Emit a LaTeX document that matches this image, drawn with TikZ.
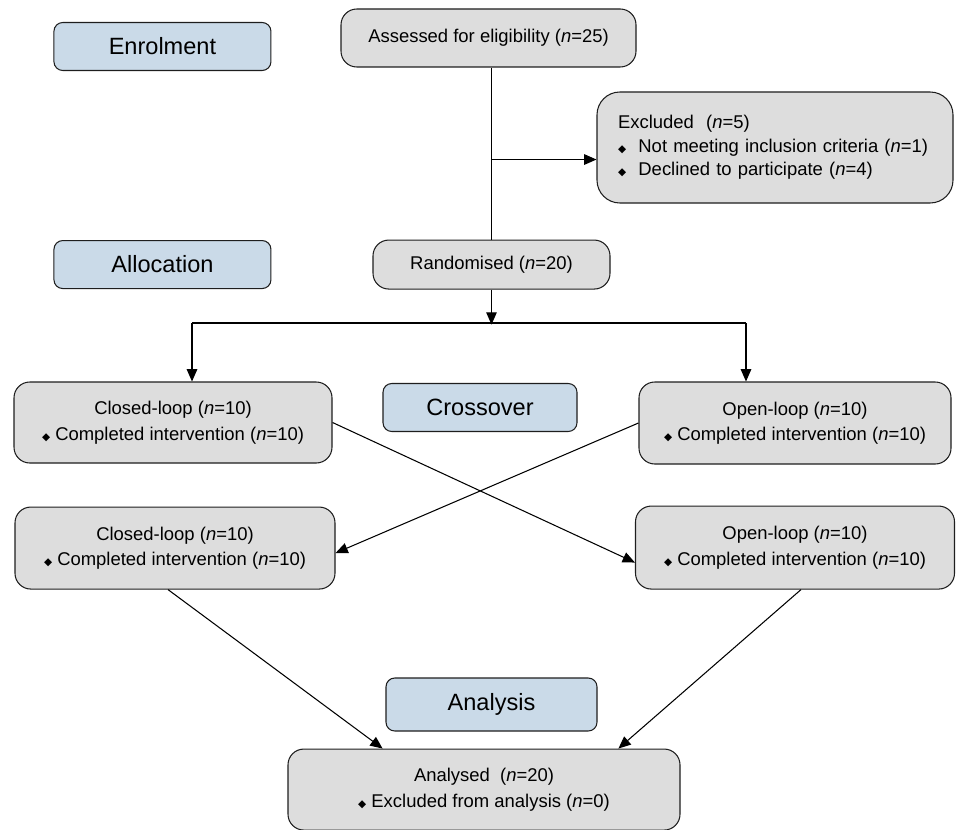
\documentclass[tikz,border=0pt]{standalone}
\usepackage{fontspec}
\setmainfont{Liberation Sans}
\newfontfamily\symfont{DejaVu Sans}
\usepackage{tikz}
\usetikzlibrary{arrows.meta, positioning, calc}
\definecolor{boxgrey}{RGB}{221,221,221}
\definecolor{labelblue}{RGB}{202,218,232}
\definecolor{edgegrey}{RGB}{30,30,30}
\newcommand{\dmd}{{\symfont\fontsize{6}{6}\selectfont ◆}}
\newcommand{\nn}{\textit{n}}
\tikzset{
  greybox/.style={
    rectangle, rounded corners=9pt, draw=edgegrey, fill=boxgrey,
    line width=0.6pt, align=center, inner sep=2pt,
    font=\fontsize{10.5}{14.5}\selectfont
  },
  labelbox/.style={
    rectangle, rounded corners=5pt, draw=edgegrey, fill=labelblue,
    line width=0.6pt, minimum width=4.34cm, minimum height=0.96cm,
    text centered, font=\fontsize{13.4}{16}\selectfont
  },
  arrow/.style={line width=0.6pt, -{Triangle[length=7pt,width=6pt]}, color=black},
  line/.style={line width=0.6pt, color=black},
}
\begin{document}
\begin{tikzpicture}[node distance=0.9cm and 1.8cm]
  \useasboundingbox (0,0) rectangle (19.14,-16.6);
  % phase labels
  \node (assess) [greybox, minimum width=5.9cm, minimum height=1.16cm] at (9.77,-0.76)
        {Assessed for eligibility (\nn=25)};
  \node (rand)   [greybox, minimum width=4.74cm, minimum height=0.98cm, below=3.44cm of assess, xshift=0.06cm]
        {Randomised (\nn=20)};
  \node (alloc)  [labelbox, left=2.02cm of rand] {Allocation};
  \node (enrol)  [labelbox, above=3.38cm of alloc] {Enrolment};
  \node (excl)   [greybox, rounded corners=13pt, minimum width=7.12cm, minimum height=2.22cm,
                  text width=6.28cm, align=left, inner xsep=0.42cm,
                  font=\fontsize{10.5}{13.5}\selectfont] at (15.5,-2.95)
        {Excluded\ \ (\nn=5)\\
         \dmd\hspace{7pt}Not meeting inclusion criteria (\nn=1)\\
         \dmd\hspace{7pt}Declined to participate (\nn=4)};

  % crossover periods
  \node (cl1)   [greybox, minimum width=6.36cm, minimum height=1.62cm] at (3.46,-8.45)
        {Closed-loop (\nn=10)\\ \dmd\ Completed intervention (\nn=10)};
  \node (cross) [labelbox, minimum width=3.88cm] at (9.6,-8.15) {Crossover};
  \node (ol1)   [greybox, minimum width=6.24cm, minimum height=1.64cm] at (15.9,-8.46)
        {Open-loop (\nn=10)\\ \dmd\ Completed intervention (\nn=10)};
  \node (cl2)   [greybox, minimum width=6.4cm, minimum height=1.64cm, below=0.86cm of cl1, xshift=0.04cm]
        {Closed-loop (\nn=10)\\ \dmd\ Completed intervention (\nn=10)};
  \node (ol2)   [greybox, minimum width=6.38cm, minimum height=1.66cm, below=0.82cm of ol1]
        {Open-loop (\nn=10)\\ \dmd\ Completed intervention (\nn=10)};

  % analysis
  \node (anlys) [labelbox, minimum width=4.22cm, minimum height=1.06cm] at (9.83,-14.09) {Analysis};
  \node (anld)  [greybox, minimum width=7.84cm, minimum height=1.62cm, below=0.34cm of anlys, xshift=-0.15cm]
        {Analysed\ \ (\nn=20)\\ \dmd\ Excluded from analysis (\nn=0)};

  \coordinate (split) at ($(assess.south)+(0.06,-1.84)$);
  \coordinate (bmid)  at ($(rand.south)+(0,-0.7)$);
  \coordinate (bleft)  at (3.84,-6.46);
  \coordinate (bright) at (14.92,-6.46);

  \draw [line]  (assess.south -| rand.north) -- (rand.north);
  \draw [arrow] (split) -- (split -| excl.west);
  \draw [arrow] (rand.south) -- (bmid);
  \draw [line]  (bleft) -- (bright);
  \draw [arrow] (bleft) -- (bleft |- cl1.north);
  \draw [arrow] (bright) -- (bright |- ol1.north);
  \draw [arrow] (cl1.east) -- ($(ol2.west)+(0,-0.3)$);
  \draw [arrow] (ol1.west) -- ($(cl2.east)+(0,-0.1)$);
  \draw [arrow] ($(cl2.south)+(-0.14,0)$) -- ($(anld.north west)!0.242!(anld.north east)$);
  \draw [arrow] ($(ol2.south)+(0.12,0)$) -- ($(anld.north west)!0.842!(anld.north east)$);
\end{tikzpicture}
\end{document}
